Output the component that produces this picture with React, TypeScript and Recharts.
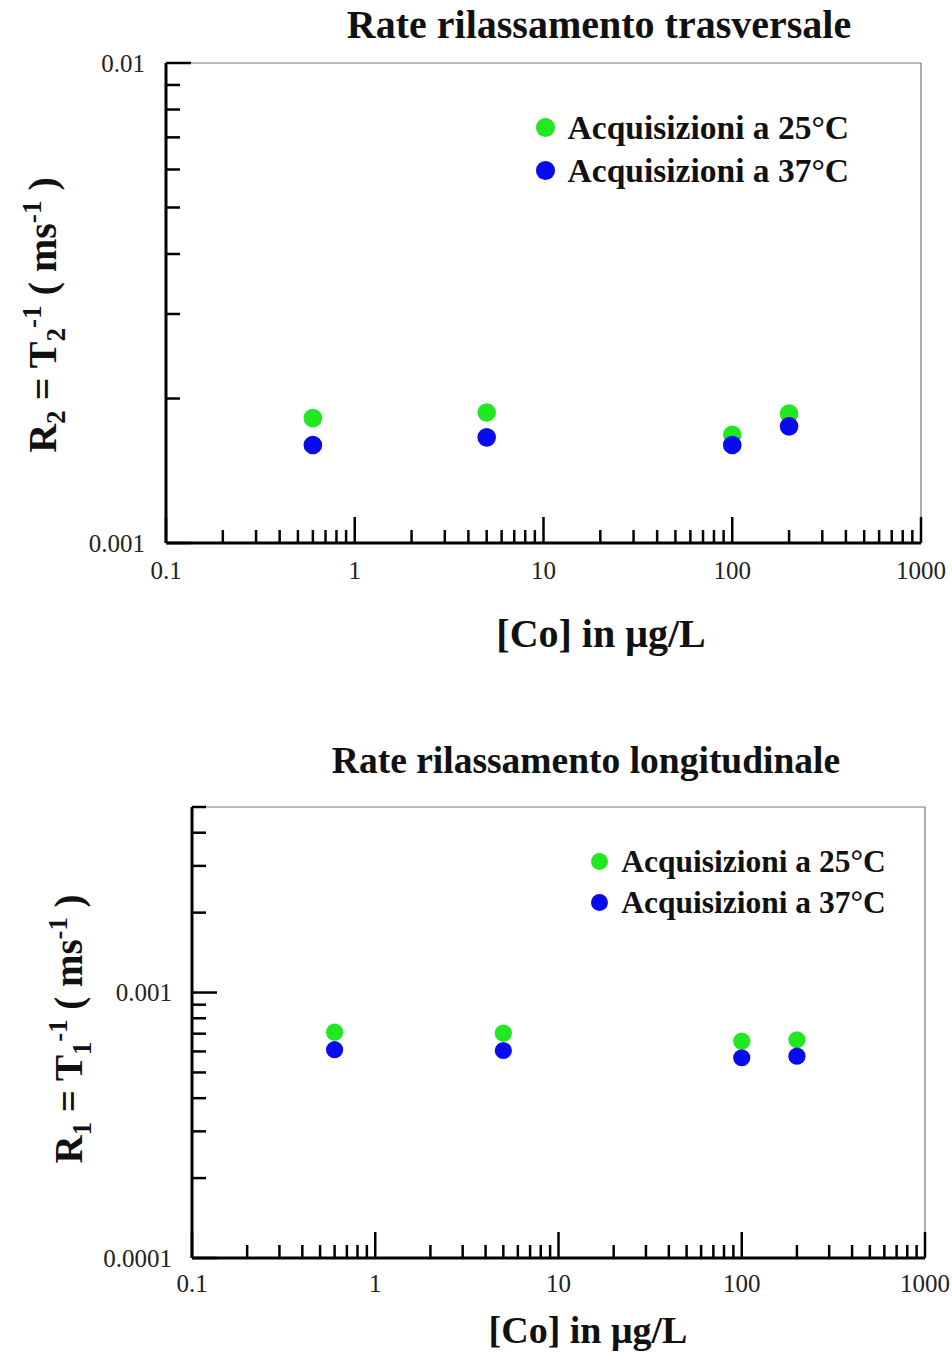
import React from "react";
import { ScatterChart, Scatter, XAxis, YAxis, ReferenceLine, Legend, Label } from "recharts";

// concentrations of Co (µg/L)
const concentrations = [0.6, 5, 100, 200];

// transverse relaxation rate R2 (ms^-1)
const r2At25 = [0.00182, 0.00187, 0.00168, 0.00186];
const r2At37 = [0.0016, 0.00166, 0.0016, 0.00175];

// longitudinal relaxation rate R1 (ms^-1)
const r1At25 = [0.000709, 0.000703, 0.000656, 0.000664];
const r1At37 = [0.000609, 0.000605, 0.000568, 0.000576];

const seriesNames = ["Acquisizioni a 25°C", "Acquisizioni a 37°C"];
const seriesColors = ["#22e822", "#0a0aee"];

const xMajorTicks = [0.1, 1, 10, 100, 1000];
const xTickLabels = ["0.1", "1", "10", "100", "1000"];
const r2MajorTicks = [0.001, 0.01];
const r2TickLabels = ["0.001", "0.01"];
const r1MajorTicks = [0.0001, 0.001];
const r1TickLabels = ["0.0001", "0.001"];
const r1Top = 0.005;

const SERIF = "'Liberation Serif', 'Times New Roman', serif";

// every 1..9 x 10^n tick between min and max
function logTicks(min: number, max: number) {
  const out: number[] = [];
  for (let d = min; d <= max * 1.000001; d *= 10) {
    for (let k = 1; k <= 9; k++) {
      const v = +(d * k).toPrecision(6);
      if (v <= max * 1.000001) out.push(v);
    }
  }
  return out;
}

const majorIndex = (majors: number[], v: number) =>
  majors.findIndex((m) => Math.abs(m - v) / m < 1e-6);

function makeXTick(majors: number[], labels: string[], fontSize: number, labelDy: number) {
  return (props: any) => {
    const { x, y, payload } = props;
    const i = majorIndex(majors, payload.value);
    return (
      <g>
        <line x1={x} x2={x} y1={y} y2={y - (i >= 0 ? 26 : 13)} stroke="#000" strokeWidth={2.5} />
        {i >= 0 && (
          <text x={x} y={y + labelDy} textAnchor="middle" dominantBaseline="central"
            fontSize={fontSize} fontFamily={SERIF} fill="#222">
            {labels[i]}
          </text>
        )}
      </g>
    );
  };
}

function makeYTick(majors: number[], labels: string[], fontSize: number, gap: number) {
  return (props: any) => {
    const { x, y, payload } = props;
    const i = majorIndex(majors, payload.value);
    return (
      <g>
        <line x1={x} x2={x + (i >= 0 ? 25 : 14)} y1={y} y2={y} stroke="#000" strokeWidth={2.5} />
        {i >= 0 && (
          <text x={x - gap} y={y} textAnchor="end" dominantBaseline="central"
            fontSize={fontSize} fontFamily={SERIF} fill="#222">
            {labels[i]}
          </text>
        )}
      </g>
    );
  };
}

const dot = (r: number) => (props: any) =>
  <circle cx={props.cx} cy={props.cy} r={r} fill={props.fill} />;

function YTitle({ px, py, idx, size }: any) {
  const s = size * 0.68;
  return (
    <text transform={`translate(${px},${py}) rotate(-90)`} textAnchor="middle"
      fontFamily={SERIF} fontWeight="bold" fontSize={size} fill="#111">
      <tspan>R</tspan>
      <tspan fontSize={s} dy={size * 0.22}>{idx}</tspan>
      <tspan dy={-size * 0.22}> = T</tspan>
      <tspan fontSize={s} dy={size * 0.22}>{idx}</tspan>
      <tspan fontSize={s} dy={-size * 0.6}>-1</tspan>
      <tspan dy={size * 0.38}> ( ms</tspan>
      <tspan fontSize={s} dy={-size * 0.38}>-1</tspan>
      <tspan dy={size * 0.38}> )</tspan>
    </text>
  );
}

function TextAt({ px, py, size, children }: any) {
  return (
    <text x={px} y={py} textAnchor="middle" dominantBaseline="central"
      fontFamily={SERIF} fontWeight="bold" fontSize={size} fill="#111">
      {children}
    </text>
  );
}

function LegendBox({ size, gap, dotR, textGap }: any) {
  return (
    <div style={{ fontFamily: SERIF, fontWeight: "bold", fontSize: size, color: "#111" }}>
      {seriesNames.map((name, i) => (
        <div key={name} style={{ display: "flex", alignItems: "center", height: gap, whiteSpace: "nowrap" }}>
          <span style={{ display: "inline-block", width: dotR * 2, height: dotR * 2, borderRadius: "50%",
            background: seriesColors[i], marginRight: textGap }} />
          {name}
        </div>
      ))}
    </div>
  );
}

type PanelProps = {
  top: number;
  height: number;
  marginTop: number;
  marginRight: number;
  yWidth: number;
  xHeight: number;
  yDomain: [number, number];
  yMajors: number[];
  yLabels: string[];
  s25: number[];
  s37: number[];
  idx: string;
  title: string;
  titleSize: number;
  xTitleSize: number;
  yTitleSize: number;
  titlePos: [number, number];
  xTitlePos: [number, number];
  yTitlePos: [number, number];
  legendPos: [number, number];
  legendSize: number;
  legendGap: number;
  dotR: number;
  xLabelDy: number;
  yGap: number;
};

function Panel(p: PanelProps) {
  const d25 = concentrations.map((x, i) => ({ x, y: p.s25[i] }));
  const d37 = concentrations.map((x, i) => ({ x, y: p.s37[i] }));
  return (
    <div style={{ position: "absolute", left: 0, top: p.top }}>
      <ScatterChart width={952} height={p.height}
        margin={{ top: p.marginTop, right: p.marginRight, bottom: 0, left: 0 }}>
        <XAxis type="number" dataKey="x" scale="log" domain={[0.1, 1000]} allowDataOverflow
          ticks={logTicks(0.1, 1000)} interval={0} tickSize={0} tickMargin={0} height={p.xHeight}
          axisLine={{ stroke: "#000", strokeWidth: 3 }}
          tick={makeXTick(xMajorTicks, xTickLabels, 25, p.xLabelDy)}>
          <Label content={() => <TextAt px={p.xTitlePos[0]} py={p.xTitlePos[1]} size={p.xTitleSize}>[Co] in μg/L</TextAt>} />
          <Label content={() => <TextAt px={p.titlePos[0]} py={p.titlePos[1]} size={p.titleSize}>{p.title}</TextAt>} />
        </XAxis>
        <YAxis type="number" dataKey="y" scale="log" domain={p.yDomain} allowDataOverflow
          ticks={logTicks(p.yDomain[0], p.yDomain[1])} interval={0} tickSize={0} tickMargin={0} width={p.yWidth}
          axisLine={{ stroke: "#000", strokeWidth: 3 }}
          tick={makeYTick(p.yMajors, p.yLabels, 25, p.yGap)}>
          <Label content={() => <YTitle px={p.yTitlePos[0]} py={p.yTitlePos[1]} idx={p.idx} size={p.yTitleSize} />} />
        </YAxis>
        <ReferenceLine y={p.yDomain[1]} stroke="#777" strokeWidth={1.2} />
        <ReferenceLine x={1000} stroke="#777" strokeWidth={1.2} />
        <Legend layout="vertical" align="center" verticalAlign="middle"
          wrapperStyle={{ left: p.legendPos[0], top: p.legendPos[1], width: "auto" }}
          content={() => <LegendBox size={p.legendSize} gap={p.legendGap} dotR={p.dotR} textGap={13} />} />
        <Scatter name={seriesNames[0]} data={d25} fill={seriesColors[0]} shape={dot(p.dotR)} isAnimationActive={false} />
        <Scatter name={seriesNames[1]} data={d37} fill={seriesColors[1]} shape={dot(p.dotR)} isAnimationActive={false} />
      </ScatterChart>
    </div>
  );
}

export default function App() {
  return (
    <div style={{ position: "absolute", left: 0, top: 0, width: 952, height: 1353, background: "#fff" }}>
      <Panel top={0} height={680} marginTop={63} marginRight={31} yWidth={166} xHeight={137}
        yDomain={[0.001, 0.01]} yMajors={r2MajorTicks} yLabels={r2TickLabels}
        s25={r2At25} s37={r2At37} idx="2" title="Rate rilassamento trasversale"
        titleSize={40} xTitleSize={40} yTitleSize={40}
        titlePos={[599, 24]} xTitlePos={[601, 633]} yTitlePos={[56, 315]}
        legendPos={[536, 106]} legendSize={33.5} legendGap={43} dotR={9.3} xLabelDy={27} yGap={21} />
      <Panel top={720} height={633} marginTop={87} marginRight={27} yWidth={192} xHeight={95}
        yDomain={[0.0001, r1Top]} yMajors={r1MajorTicks} yLabels={r1TickLabels}
        s25={r1At25} s37={r1At37} idx="1" title="Rate rilassamento longitudinale"
        titleSize={37.5} xTitleSize={38} yTitleSize={39}
        titlePos={[586, 40]} xTitlePos={[588, 610]} yTitlePos={[82, 309]}
        legendPos={[591, 121]} legendSize={31.5} legendGap={41} dotR={8.6} xLabelDy={25} yGap={20} />
    </div>
  );
}
